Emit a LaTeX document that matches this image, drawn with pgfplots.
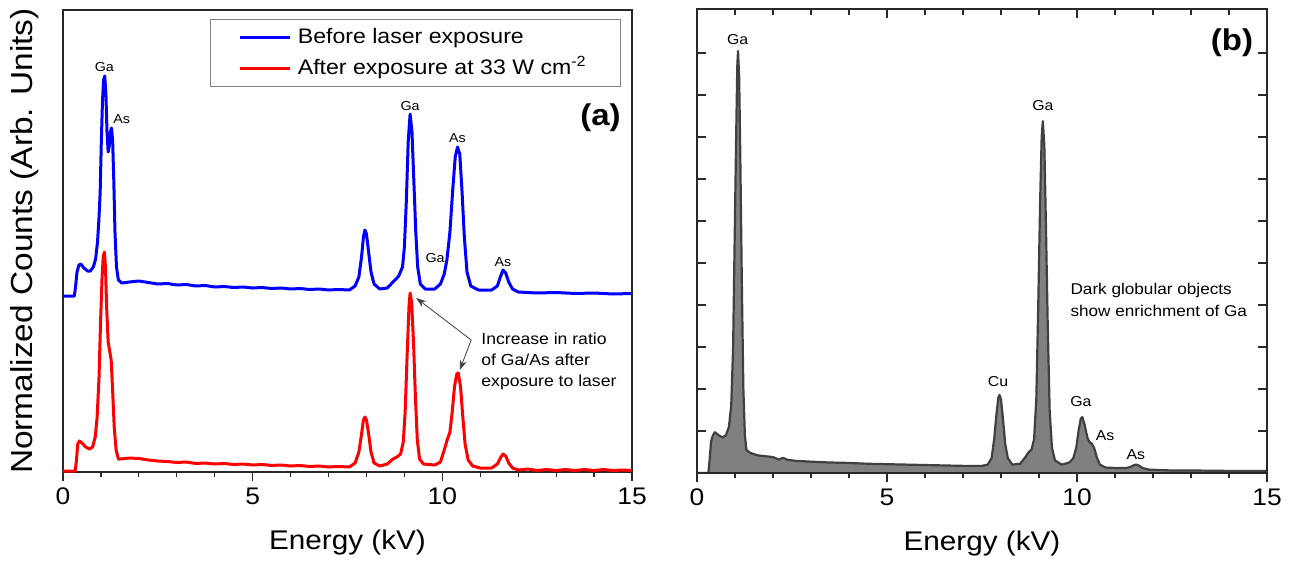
\documentclass[border=0pt]{standalone}
\usepackage{pgfplots}
\pgfplotsset{compat=1.18}
\usepackage{pgfplotstable}
\usepackage{fontspec}
\setmainfont{Liberation Sans}[FakeStretch=1.1]
\usetikzlibrary{arrows.meta}

\definecolor{pblue}{RGB}{0,0,255}
\definecolor{pred}{RGB}{255,0,0}
\definecolor{gfill}{RGB}{128,128,128}
\definecolor{gline}{RGB}{64,64,64}
\definecolor{axc}{RGB}{40,40,40}

\pgfplotstableread{
x y
0 176
0.30 176
0.33 185
0.37 200
0.42 207
0.47 208
0.55 204
0.65 201
0.72 201
0.80 205
0.86 213
0.91 230
0.95 255
0.98 280
1.01 330
1.04 370
1.07 392
1.10 396
1.13 380
1.16 340
1.19 320
1.22 326
1.25 340
1.28 344
1.31 330
1.34 290
1.37 240
1.41 205
1.46 192
1.55 189
1.75 190
2.0 191
2.25 189.5
2.5 188
2.75 188.5
3.0 187
3.25 187.5
3.5 186
3.75 186.5
4.0 185
4.25 185.5
4.5 184.5
4.75 185
5.0 184
5.25 184.5
5.5 183.5
5.75 184
6.0 183
6.25 183.5
6.5 182.5
6.75 183
7.0 182
7.25 182.5
7.55 182
7.7 186
7.8 195
7.87 215
7.92 235
7.96 242
8.0 238
8.05 222
8.12 200
8.2 188
8.35 183
8.55 184
8.7 190
8.78 193
8.85 196
8.95 205
9.0 225
9.05 270
9.1 330
9.15 358
9.2 340
9.25 290
9.3 240
9.35 205
9.42 188
9.55 183
9.8 183
9.95 188
10.05 198
10.12 212
10.2 240
10.27 280
10.34 315
10.4 325
10.46 318
10.52 280
10.58 235
10.65 200
10.75 186
10.95 182
11.3 182
11.45 186
11.53 195
11.6 202
11.67 199
11.75 190
11.85 183
12.0 180
12.5 179
13.0 179.5
13.5 178.5
14.0 179
14.5 178
15.0 178.5
}\tblblue

\pgfplotstableread{
x y
0 1
0.32 1
0.35 10
0.39 28
0.43 31
0.5 29
0.6 25
0.7 23
0.78 25
0.85 35
0.9 55
0.95 95
0.99 150
1.03 195
1.06 215
1.09 220
1.12 205
1.15 165
1.19 130
1.23 121
1.27 112
1.31 80
1.35 45
1.40 22
1.46 13
1.5 13
1.75 14
2.0 13.5
2.25 12
2.5 11
2.75 10.5
3.0 9.5
3.25 10
3.5 8.5
3.75 9
4.0 8
4.25 8.5
4.5 7.5
4.75 8
5.0 7
5.25 7.5
5.5 6.5
5.75 7
6.0 6
6.25 6.5
6.5 5.5
6.75 6
7.0 5
7.25 5.5
7.55 5
7.7 9
7.8 20
7.87 38
7.92 52
7.96 55
8.0 52
8.05 40
8.12 20
8.2 9
8.35 6
8.55 8
8.7 13
8.8 15
8.9 18
8.97 30
9.02 60
9.07 115
9.12 165
9.15 179
9.19 170
9.24 130
9.29 75
9.34 32
9.4 13
9.5 8
9.8 7
9.95 10
10.05 22
10.12 31
10.2 40
10.26 60
10.32 85
10.38 98
10.42 99
10.48 85
10.54 55
10.6 28
10.68 12
10.8 6
11.0 4
11.3 4
11.45 8
11.53 14
11.6 18
11.67 16
11.75 9
11.85 4
12.0 2
12.25 3
12.5 1.5
12.75 2.5
13.0 1.5
13.25 2.5
13.5 1.5
13.75 2.5
14.0 1.5
14.25 2.5
14.5 1.5
14.75 2
15.0 1.5
}\tblred

\pgfplotstableread{
x y
0 0
0.30 0
0.33 0.3
0.37 0.75
0.42 0.9
0.47 0.97
0.53 0.93
0.6 0.88
0.68 0.85
0.76 0.9
0.84 1.1
0.9 1.6
0.95 3.0
0.99 5.5
1.03 8.0
1.06 9.7
1.08 10.05
1.11 9.4
1.14 7.5
1.18 4.5
1.22 2.0
1.26 0.9
1.30 0.55
1.4 0.48
1.6 0.42
1.8 0.4
2.0 0.38
2.15 0.32
2.26 0.36
2.4 0.31
2.6 0.29
3.0 0.27
3.5 0.25
4.0 0.24
4.5 0.22
5.0 0.21
5.5 0.2
6.0 0.19
6.5 0.18
7.0 0.17
7.5 0.17
7.65 0.2
7.75 0.35
7.82 0.8
7.88 1.4
7.93 1.8
7.96 1.86
8.0 1.75
8.05 1.3
8.11 0.7
8.18 0.35
8.3 0.2
8.5 0.22
8.62 0.35
8.73 0.5
8.8 0.55
8.87 0.8
8.93 1.8
8.98 4
9.03 6.5
9.07 8.0
9.1 8.38
9.14 7.8
9.18 6.0
9.23 3.5
9.28 1.5
9.34 0.6
9.42 0.3
9.6 0.2
9.8 0.25
9.9 0.35
9.98 0.6
10.04 1.0
10.1 1.3
10.14 1.33
10.2 1.15
10.27 0.85
10.33 0.73
10.38 0.71
10.45 0.6
10.52 0.38
10.6 0.2
10.75 0.13
11.0 0.12
11.3 0.12
11.42 0.15
11.5 0.19
11.56 0.2
11.62 0.18
11.72 0.12
11.9 0.08
12.5 0.06
13 0.06
14 0.05
15 0.05
}\tblgray

\begin{document}
\begin{tikzpicture}
\path[use as bounding box] (-31.5pt,-45.5pt) rectangle (615pt,236pt);

% ---------------- panel (a)
\begin{axis}[
  at={(0pt,0pt)}, anchor=south west,
  scale only axis, width=284.5pt, height=231pt,
  xmin=0, xmax=15, ymin=0, ymax=462,
  xtick={0,5,10,15}, minor x tick num=4,
  ytick=\empty,
  xtick pos=left,
  tick align=outside,
  major tick length=4.5pt, minor tick length=2.5pt,
  every tick/.style={axc, line width=0.6pt},
  axis line style={axc, line width=0.6pt},
  /pgf/number format/assume math mode=true,
  ticklabel style={font=\fontsize{12}{14}\selectfont},
  xlabel={Energy (kV)},
  ylabel={Normalized Counts (Arb. Units)},
  xlabel style={font=\fontsize{13.5}{16}\selectfont, at={(axis description cs:0.5,-0.153)}, anchor=center},
  ylabel style={font=\fontsize{15.2}{17}\selectfont, at={(axis description cs:-0.0668,0.5)}, anchor=center},
  legend style={at={(0.981,0.980)}, anchor=north east, draw=black!50, line width=0.5pt,
    font=\fontsize{10.5}{12}\selectfont, inner xsep=14pt, inner ysep=2.75pt, row sep=3pt,
    nodes={text height=8pt, text depth=2.5pt, inner ysep=1pt, inner xsep=3pt}},
  legend cell align=left,
  legend image code/.code={\draw[#1] (0pt,0pt) -- (25pt,0pt);},
]
\addplot[pblue, line width=1.5pt, line join=round] table {\tblblue};
\addlegendentry{Before laser exposure}
\addplot[pred, line width=1.5pt, line join=round] table {\tblred};
\addlegendentry{After exposure at 33 W cm\textsuperscript{-2}}

\begin{scope}[every node/.style={font=\fontsize{6.5}{7}\selectfont}]
\node at (axis cs:1.09,405) {Ga};
\node at (axis cs:1.55,353) {As};
\node at (axis cs:9.15,366) {Ga};
\node at (axis cs:10.4,334) {As};
\node at (axis cs:9.81,214) {Ga};
\node at (axis cs:11.6,210) {As};
\end{scope}
\node[font=\fontsize{15}{16}\selectfont\bfseries] at (axis cs:14.17,354) {(a)};
\node[font=\fontsize{8}{10.5}\selectfont, align=left, anchor=west, inner sep=0pt] at (axis cs:11.02,111) {Increase in ratio\\of Ga/As after\\exposure to laser};
\draw[-{Stealth[length=5pt,width=3.5pt]}, black!75, line width=0.4pt] (axis cs:10.76,132) -- (axis cs:9.31,174);
\draw[-{Stealth[length=5pt,width=3.5pt]}, black!75, line width=0.4pt] (axis cs:10.76,132) -- (axis cs:10.46,102);
\end{axis}

% ---------------- panel (b)
\begin{axis}[
  at={(317pt,-0.5pt)}, anchor=south west,
  scale only axis, width=285pt, height=232pt,
  xmin=0, xmax=15, ymin=0, ymax=11.05,
  xtick={0,5,10,15}, minor x tick num=4,
  ytick=\empty,
  xtick pos=left,
  tick align=outside,
  major tick length=4.5pt, minor tick length=2.5pt,
  every tick/.style={axc, line width=0.6pt},
  axis line style={axc, line width=0.6pt},
  axis on top,
  /pgf/number format/assume math mode=true,
  ticklabel style={font=\fontsize{12}{14}\selectfont},
  xlabel={Energy (kV)},
  xlabel style={font=\fontsize{13.5}{16}\selectfont, at={(axis description cs:0.5,-0.153)}, anchor=center},
]
\addplot[fill=gfill, draw=none] table {\tblgray} \closedcycle;
\addplot[gline, line width=1.1pt, line join=round] table {\tblgray};
\begin{scope}[every node/.style={font=\fontsize{7.2}{8}\selectfont}]
\node at (axis cs:1.07,10.33) {Ga};
\node at (axis cs:9.1,8.74) {Ga};
\node at (axis cs:7.92,2.17) {Cu};
\node at (axis cs:10.1,1.69) {Ga};
\node at (axis cs:10.74,0.88) {As};
\node at (axis cs:11.55,0.43) {As};
\end{scope}
\node[font=\fontsize{15}{16}\selectfont\bfseries] at (axis cs:14.08,10.24) {(b)};
\node[font=\fontsize{7.8}{11}\selectfont, align=left, anchor=west, inner sep=0pt] at (axis cs:9.82,4.12) {Dark globular objects\\show enrichment of Ga};
\end{axis}

\begin{axis}[
  at={(317pt,-0.5pt)}, anchor=south west,
  scale only axis, width=285pt, height=232pt,
  xmin=0, xmax=15, ymin=0, ymax=11.05,
  xtick={0,5,10,15}, minor x tick num=4,
  ytick={1,2,3,4,5,6,7,8,9,10},
  xtick pos=right, ytick pos=both,
  xticklabels={}, yticklabels={},
  tick align=inside,
  major tick length=4.5pt, minor tick length=3pt,
  every tick/.style={axc, line width=0.6pt},
  axis line style={axc, line width=0.6pt},
]
\addplot[draw=none] coordinates {(0,0) (15,0)};
\end{axis}
\end{tikzpicture}
\end{document}
